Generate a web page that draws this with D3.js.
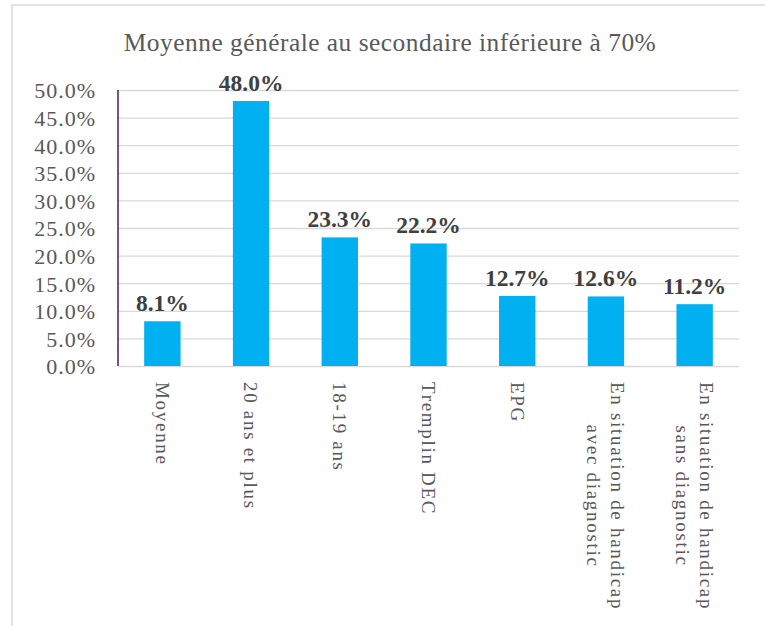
<!DOCTYPE html>
<html><head><meta charset="utf-8">
<script src="https://cdn.jsdelivr.net/npm/d3@7"></script>
<style>
html,body{margin:0;padding:0;background:#fff;}
svg{display:block;}
</style></head>
<body>
<svg id="chart" width="765" height="626"></svg>
<script>
const title = "Moyenne générale au secondaire inférieure à 70%";
const categories = ["Moyenne","20 ans et plus","18-19 ans","Tremplin DEC","EPG","En situation de handicap\navec diagnostic","En situation de handicap\nsans diagnostic"];
const values = [8.1, 48.0, 23.3, 22.2, 12.7, 12.6, 11.2];
const yTicks = [0,5,10,15,20,25,30,35,40,45,50];

const FONT = "'Liberation Serif', 'Times New Roman', serif";
const svg = d3.select("#chart");
svg.append("rect").attr("width",765).attr("height",626).attr("fill","#fff");
// outer frame
svg.append("rect").attr("x",12).attr("y",5).attr("width",780).attr("height",660)
  .attr("fill","none").attr("stroke","#D9D9D9").attr("stroke-width",1.5);

const m = {left:118, right:739, top:90, bottom:366};
const x = d3.scaleBand().domain(categories).range([m.left,m.right]).paddingInner(0.59).paddingOuter(0.295);
const y = d3.scaleLinear().domain([0,50]).range([m.bottom,m.top]);

// title
svg.append("text").attr("x",390).attr("y",51).attr("text-anchor","middle")
  .style("font-family",FONT).style("font-size","25.4px").attr("fill","#595959")
  .style("letter-spacing","0.5px")
  .text(title);

// gridlines
const yAxis = d3.axisLeft(y).tickValues(yTicks).tickSize(-(m.right-m.left)).tickPadding(22)
  .tickFormat(d=>d.toFixed(1)+"%");
const gy = svg.append("g").attr("transform",`translate(${m.left},0)`).call(yAxis);
gy.select(".domain").remove();
gy.selectAll(".tick line").attr("stroke","#D9D9D9").attr("stroke-width",1.3);
gy.selectAll(".tick text").style("font-family",FONT).style("font-size","22px")
  .attr("fill","#595959").attr("dy","0.36em").style("letter-spacing","1px");

// bars
svg.append("g").selectAll("rect").data(values).join("rect")
  .attr("x",(d,i)=>x(categories[i])).attr("width",x.bandwidth())
  .attr("y",d=>y(d)).attr("height",d=>y(0)-y(d)).attr("fill","#00B0F0");

// y axis line
svg.append("line").attr("x1",m.left).attr("x2",m.left).attr("y1",m.top).attr("y2",m.bottom)
  .attr("stroke","#5E2A4C").attr("stroke-width",1.6);

// value labels
svg.append("g").selectAll("text").data(values).join("text")
  .attr("x",(d,i)=>x(categories[i])+x.bandwidth()/2).attr("y",d=>y(d)-10)
  .attr("text-anchor","middle").style("font-family",FONT).style("font-size","23.5px")
  .style("font-weight","bold").attr("fill","#404040")
  .text(d=>d.toFixed(1)+"%");

// category labels rotated
const labelStart = 382, lineH = 24;
categories.forEach((c,i)=>{
  const lines = c.split("\n");
  const cx = x(c)+x.bandwidth()/2;
  const g = svg.append("g").attr("transform",`translate(${cx},0) rotate(90)`);
  const offs = (lines.length-1)*lineH/2;
  const texts = lines.map((ln,j)=> g.append("text")
     .attr("y", -offs + j*lineH).attr("dy","0.35em")
     .style("font-family",FONT).style("font-size","19px").style("letter-spacing","1.7px")
     .attr("fill","#595959").attr("text-anchor","middle").text(ln));
  const w = d3.max(texts, t=>t.node().getComputedTextLength());
  texts.forEach(t=>t.attr("x", labelStart + w/2));
});
</script>
</body></html>
